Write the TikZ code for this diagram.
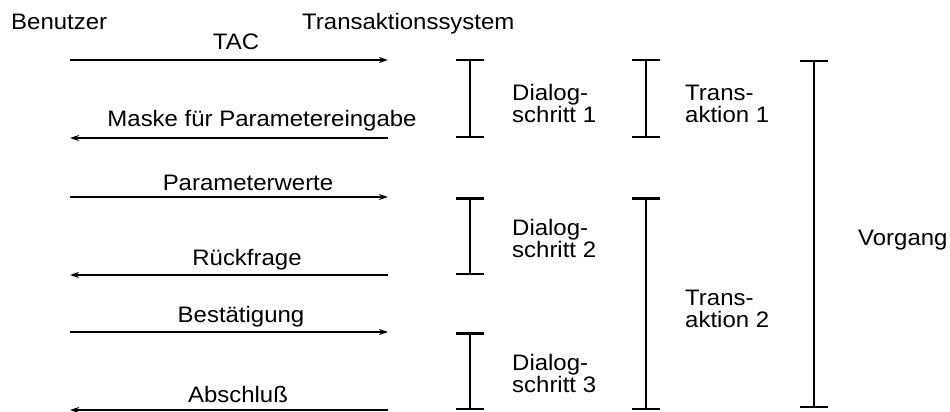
\documentclass[tikz,border=0pt]{standalone}
\usepackage{fontspec}
\setmainfont{Liberation Sans}[FakeStretch=1.07]
\usetikzlibrary{arrows.meta}
\begin{document}
\begin{tikzpicture}[x=1pt,y=-1pt,
  lbl/.style={inner sep=0pt, font=\fontsize{22.4}{22}\selectfont},
  msg/.style={line width=2pt, -{Stealth[length=9pt,width=6pt]}},
  span/.style={line width=2.5pt, {Bar[width=28pt,line width=2.5pt]}-{Bar[width=28pt,line width=2.5pt]}}]
\useasboundingbox (0,0) rectangle (950,412);
% headers
\node[lbl, anchor=base west] (ben) at (11,30) {Benutzer};
\node[lbl, anchor=base west] (ts) at (302,30) {Transaktionssystem};
% message end points
\foreach \n/\y in {1/60,2/138,3/197,4/275,5/332,6/410}{
  \coordinate (u\n) at (70,\y);
  \coordinate (s\n) at (388,\y);
}
\draw[msg] (u1) -- (s1);
\draw[msg] (s2) -- (u2);
\draw[msg] (u3) -- (s3);
\draw[msg] (s4) -- (u4);
\draw[msg] (u5) -- (s5);
\draw[msg] (s6) -- (u6);
% message labels
\node[lbl, anchor=base] (tac) at (236,50) {TAC};
\node[lbl, anchor=base] (mask) at (262,126) {Maske für Parametereingabe};
\node[lbl, anchor=base] (pw) at (248,190) {Parameterwerte};
\node[lbl, anchor=base] (rf) at (247,265) {Rückfrage};
\node[lbl, anchor=base] (bst) at (241,322) {Bestätigung};
\node[lbl, anchor=base] (abs) at (238,402) {Abschluß};
% brackets
\coordinate (d1t) at (470,59);  \coordinate (d1b) at (470,138);
\coordinate (d2t) at (470,197); \coordinate (d2b) at (470,275);
\coordinate (d3t) at (470,332); \coordinate (d3b) at (470,410);
\coordinate (t1t) at (646,59);  \coordinate (t1b) at (646,138);
\coordinate (t2t) at (646,197); \coordinate (t2b) at (646,410);
\coordinate (vt) at (814,60);   \coordinate (vb) at (814,408);
\draw[span] (d1t) -- (d1b);
\draw[span] (d2t) -- (d2b);
\draw[span] (d3t) -- (d3b);
\draw[span] (t1t) -- (t1b);
\draw[span] (t2t) -- (t2b);
\draw[span] (vt) -- (vb);
% bracket labels (anchor = baseline of last line)
\node[lbl, anchor=base west, align=left] (dl1) at (512,122) {Dialog-\\schritt 1};
\node[lbl, anchor=base west, align=left] (dl2) at (512,257) {Dialog-\\schritt 2};
\node[lbl, anchor=base west, align=left] (dl3) at (512,392) {Dialog-\\schritt 3};
\node[lbl, anchor=base west, align=left] (tl1) at (685,122) {Trans-\\aktion 1};
\node[lbl, anchor=base west, align=left] (tl2) at (685,327) {Trans-\\aktion 2};
\node[lbl, anchor=base west] (vg) at (858,245) {Vorgang};
\end{tikzpicture}
\end{document}
